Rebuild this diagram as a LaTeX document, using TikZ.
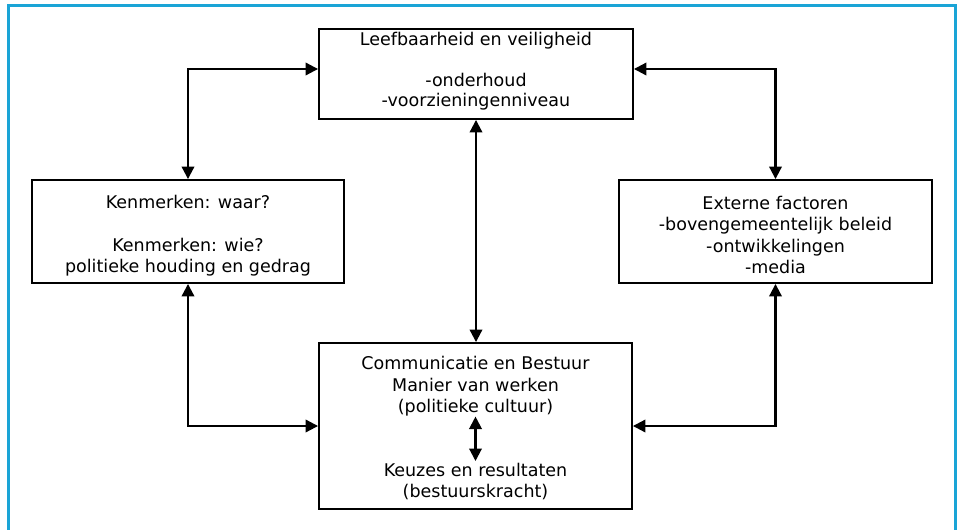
\documentclass[tikz,border=0pt]{standalone}
\usepackage{fontspec}
\setmainfont{DejaVu Sans}
\usetikzlibrary{arrows.meta}
\definecolor{framecyan}{RGB}{26,164,214}
\newcommand\tstrut{\rule{0pt}{15pt}}
\begin{document}
\begin{tikzpicture}[x=1pt,y=-1pt,
  box/.style={draw=black, line width=1.9pt, rectangle, inner sep=0pt, fill=white},
  txt/.style={align=center, inner sep=0pt, anchor=north, font=\fontsize{17.5}{21.5}\selectfont},
  link/.style={line width=2.1pt, {Triangle[length=12.5pt,width=12.5pt]}-{Triangle[length=12.5pt,width=12.5pt]}}]
\useasboundingbox (0,0) rectangle (962,530);
\draw[framecyan, line width=3.5pt] (8.5,540) -- (8.5,5.5) -- (955.5,5.5) -- (955.5,540);

\node[box, minimum width=314pt, minimum height=90pt] (tbox) at (476,74) {};
\node[box, minimum width=312pt, minimum height=103pt] (lbox) at (188,231.5) {};
\node[box, minimum width=313pt, minimum height=103pt] (rbox) at (775.5,231.5) {};
\node[box, minimum width=313pt, minimum height=166pt] (bbox) at (475.5,426) {};

\node[txt, font=\fontsize{17.5}{20.5}\selectfont] (ttxt) at (476,30) {\tstrut Leefbaarheid en veiligheid\\[20.5pt]-onderhoud\\-voorzieningenniveau};
\node[txt] (ltxt) at (188,193) {\tstrut Kenmerken: waar?\\[21.5pt]Kenmerken: wie?\\politieke houding en gedrag};
\node[txt] (rtxt) at (775.5,194) {\tstrut Externe factoren\\-bovengemeentelijk beleid\\-ontwikkelingen\\-media};
\node[txt] (b1) at (475.5,354.5) {\tstrut Communicatie en Bestuur\\Manier van werken\\(politieke cultuur)};
\node[txt] (b2) at (475.5,461) {\tstrut Keuzes en resultaten\\(bestuurskracht)};

\draw[link] (lbox.north) |- ([yshift=5pt]tbox.west);
\draw[link] (rbox.north) |- ([yshift=5pt]tbox.east);
\draw[link] (tbox.south) -- (tbox.south |- bbox.north);
\draw[link] (lbox.south) |- (bbox.west);
\draw[link] (rbox.south) |- (bbox.east);
\draw[link] (b1.south) -- (b1.south |- b2.north);
\end{tikzpicture}
\end{document}
